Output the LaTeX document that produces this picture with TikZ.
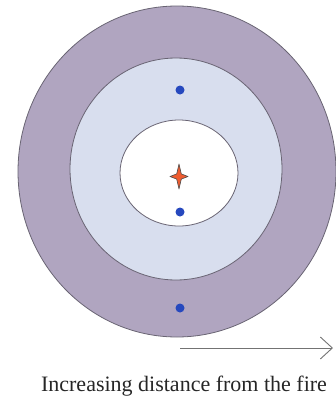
\documentclass[tikz,border=0pt]{standalone}
\usepackage{fontspec}
\setmainfont{Liberation Serif}
\usetikzlibrary{arrows.meta,shapes.geometric}
\definecolor{zoneouter}{RGB}{176,165,192}
\definecolor{zonemid}{RGB}{216,222,238}
\definecolor{ringline}{RGB}{105,100,115}
\definecolor{firecol}{RGB}{238,92,48}
\definecolor{dotcol}{RGB}{38,72,190}

\begin{document}
\begin{tikzpicture}[
    x=1pt, y=-1pt,
    ring/.style={draw=ringline, line width=0.8pt, ellipse, inner sep=0pt},
    spot/.style={circle, fill=dotcol, inner sep=0pt, minimum size=9pt},
    firestar/.style={fill=firecol, draw=black!70, line width=0.6pt, line join=round},
    axis/.style={-{Straight Barb[length=12pt,width=22pt]}, draw=black!55, line width=0.9pt}
  ]
  \useasboundingbox (0,0) rectangle (335,415);

  %% Zones round the fire
  \node (outer) [ring, fill=zoneouter, minimum width=318pt, minimum height=331pt] at (177,171.5) {};
  \node (mid)   [ring, fill=zonemid,   minimum width=212pt, minimum height=222pt] at (176,169) {};
  \node (inner) [ring, fill=white,     minimum width=118pt, minimum height=106pt] at (179,173) {};

  %% The fire
  \coordinate (fire) at (179,176.5);
  \draw[firestar, shift={(fire)}] (0,-12.5) -- (2.3,-2.6) -- (9,0) -- (2.3,2.6) -- (0,12.5)
       -- (-2.3,2.6) -- (-9,0) -- (-2.3,-2.6) -- cycle;

  %% Points at increasing distance
  \node (p1) [spot] at (180,212) {};
  \node (p2) [spot] at (180,90)  {};
  \node (p3) [spot] at (180,308) {};

  %% Distance arrow
  \coordinate (astart) at (180,348);
  \coordinate (aend)   at (333,348);
  \draw[axis] (astart) -- (aend);
  \node (caption) [anchor=base, font=\fontsize{22}{26}\selectfont, text=black!85] at (184,391)
       {Increasing distance from the fire};

\end{tikzpicture}
\end{document}
